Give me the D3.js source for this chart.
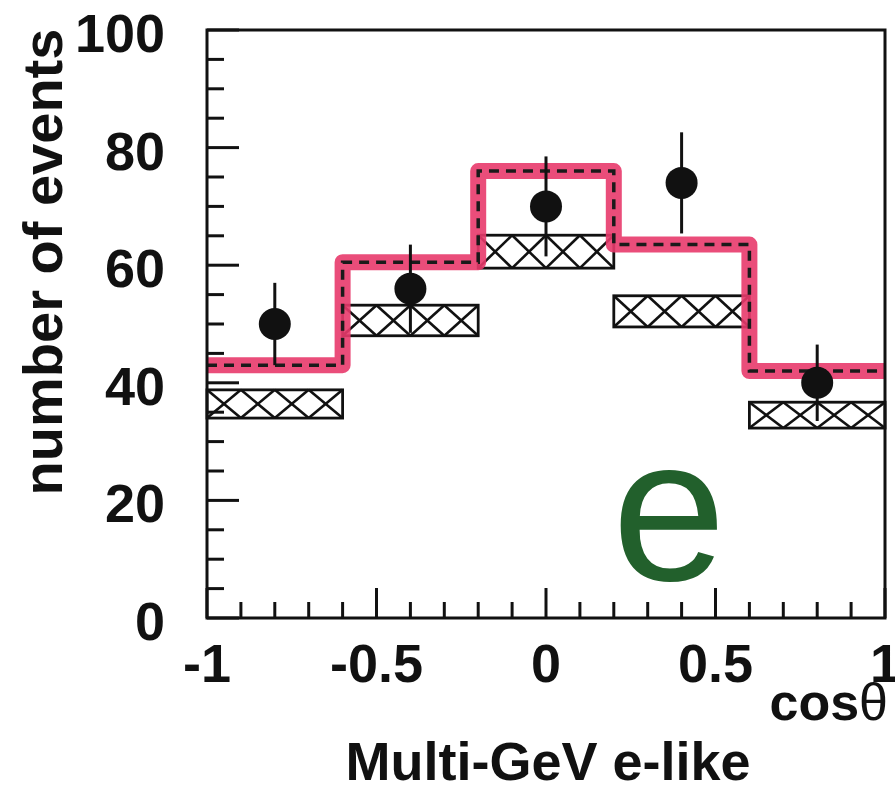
<!DOCTYPE html>
<html>
<head>
<meta charset="utf-8">
<script src="https://d3js.org/d3.v7.min.js"></script>
<style>
  body { margin: 0; background: #fff; }
  svg text { font-family: "Liberation Sans", Arial, sans-serif; font-weight: bold; fill: #111; }
</style>
</head>
<body>
<div id="chart"></div>
<script>
// bins in cos(theta)
var binEdges = [-1, -0.6, -0.2, 0.2, 0.6, 1];
// data points (centre of each bin) with errors
var dataX = [-0.8, -0.4, 0, 0.4, 0.8];
var dataY = [50, 56, 70, 74, 40];
var dataErr = [7, 7.5, 8.5, 8.6, 6.5];
// no-oscillation prediction (red histogram)
var noOsc = [43, 60.5, 76, 63.5, 42];
// oscillated prediction band (hatched boxes)
var oscLow = [34, 48, 59.5, 49.5, 32.3];
var oscHigh = [38.8, 53.2, 65.1, 54.8, 36.7];
// ticks
var yTicks = [0, 20, 40, 60, 80, 100];
var xTicks = [-1, -0.5, 0, 0.5, 1];
var xTickLabels = ["-1", "-0.5", "0", "0.5", "1"];

var W = 895, H = 792;
var plotL = 207, plotR = 885, plotT = 30, plotB = 618;

var svg = d3.select("#chart").append("svg")
    .attr("width", W)
    .attr("height", H);

var x = d3.scaleLinear().domain([-1, 1]).range([plotL, plotR]);
var y = d3.scaleLinear().domain([0, 100]).range([plotB, plotT]);

// hatched boxes (oscillated MC)
var bins = d3.range(5);
bins.forEach(function(i) {
    var x0 = x(binEdges[i]), x1 = x(binEdges[i + 1]);
    var y0 = y(oscHigh[i]), y1 = y(oscLow[i]);
    var n = Math.round((x1 - x0) / 34);
    var p = (x1 - x0) / n;
    var g = svg.append("g");
    d3.range(n).forEach(function(k) {
        g.append("line")
            .attr("x1", x0 + k * p).attr("y1", y0)
            .attr("x2", x0 + (k + 1) * p).attr("y2", y1)
            .attr("stroke", "#111").attr("stroke-width", 2.6);
        g.append("line")
            .attr("x1", x0 + (k + 1) * p).attr("y1", y0)
            .attr("x2", x0 + k * p).attr("y2", y1)
            .attr("stroke", "#111").attr("stroke-width", 2.6);
    });
    g.append("rect")
        .attr("x", x0).attr("y", y0)
        .attr("width", x1 - x0).attr("height", y1 - y0)
        .attr("fill", "none")
        .attr("stroke", "#111")
        .attr("stroke-width", 2.8);
});

// red histogram outline
var histPts = [];
bins.forEach(function(i) {
    histPts.push([binEdges[i], noOsc[i]]);
    histPts.push([binEdges[i + 1], noOsc[i]]);
});
var line = d3.line()
    .x(function(d) { return x(d[0]); })
    .y(function(d) { return y(d[1]); });

svg.append("path")
    .attr("d", line(histPts))
    .attr("fill", "none")
    .attr("stroke", "#e83a6c")
    .attr("stroke-opacity", 0.9)
    .attr("stroke-width", 16)
    .attr("stroke-linejoin", "round");

svg.append("path")
    .attr("d", line(histPts))
    .attr("fill", "none")
    .attr("stroke", "#1a1a1a")
    .attr("stroke-width", 3.5)
    .attr("stroke-dasharray", "10,7");

// data points with error bars
svg.selectAll(".err")
    .data(bins)
    .enter()
    .append("line")
    .attr("x1", function(i) { return x(dataX[i]); })
    .attr("x2", function(i) { return x(dataX[i]); })
    .attr("y1", function(i) { return y(dataY[i] - dataErr[i]); })
    .attr("y2", function(i) { return y(dataY[i] + dataErr[i]); })
    .attr("stroke", "#111")
    .attr("stroke-width", 3);

svg.selectAll(".pt")
    .data(bins)
    .enter()
    .append("circle")
    .attr("cx", function(i) { return x(dataX[i]); })
    .attr("cy", function(i) { return y(dataY[i]); })
    .attr("r", 16)
    .attr("fill", "#111");

// frame
svg.append("rect")
    .attr("x", plotL).attr("y", plotT)
    .attr("width", plotR - plotL).attr("height", plotB - plotT)
    .attr("fill", "none")
    .attr("stroke", "#111")
    .attr("stroke-width", 3);

// y ticks (inside, left)
var yMinor = d3.range(0, 101, 5);
svg.selectAll(".ytick")
    .data(yMinor)
    .enter()
    .append("line")
    .attr("x1", plotL)
    .attr("x2", function(d) { return plotL + (d % 20 === 0 ? 32 : 17); })
    .attr("y1", function(d) { return y(d); })
    .attr("y2", function(d) { return y(d); })
    .attr("stroke", "#111")
    .attr("stroke-width", 3);

// x ticks (inside, bottom)
var xMinor = d3.range(-10, 11).map(function(k) { return k / 10; });
svg.selectAll(".xtick")
    .data(xMinor)
    .enter()
    .append("line")
    .attr("x1", function(d) { return x(d); })
    .attr("x2", function(d) { return x(d); })
    .attr("y1", plotB)
    .attr("y2", function(d, k) { return plotB - ((k % 5 === 0) ? 30 : 16); })
    .attr("stroke", "#111")
    .attr("stroke-width", 3);

// tick labels
svg.selectAll(".ylab")
    .data(yTicks)
    .enter()
    .append("text")
    .attr("x", 165)
    .attr("y", function(d) { return y(d) + 22; })
    .attr("text-anchor", "end")
    .style("font-size", "54px")
    .text(function(d) { return d; });

svg.selectAll(".xlab")
    .data(xTicks)
    .enter()
    .append("text")
    .attr("x", function(d) { return x(d); })
    .attr("y", 682)
    .attr("text-anchor", "middle")
    .style("font-size", "54px")
    .text(function(d, i) { return xTickLabels[i]; });

// axis titles
var cosT = svg.append("text")
    .attr("x", 888)
    .attr("y", 720)
    .attr("text-anchor", "end")
    .style("font-size", "52px");
cosT.append("tspan").text("cos");
cosT.append("tspan").style("font-weight", "normal").text("θ");

svg.append("text")
    .attr("x", 548)
    .attr("y", 780)
    .attr("text-anchor", "middle")
    .style("font-size", "54px")
    .text("Multi-GeV e-like");

svg.append("text")
    .attr("transform", "translate(62,262) rotate(-90)")
    .attr("text-anchor", "middle")
    .style("font-size", "56px")
    .text("number of events");

// hand-written marker
svg.append("text")
    .attr("x", 612)
    .attr("y", 580)
    .style("font-size", "205px")
    .style("font-weight", "normal")
    .style("fill", "#22602c")
    .text("e");
</script>
</body>
</html>
